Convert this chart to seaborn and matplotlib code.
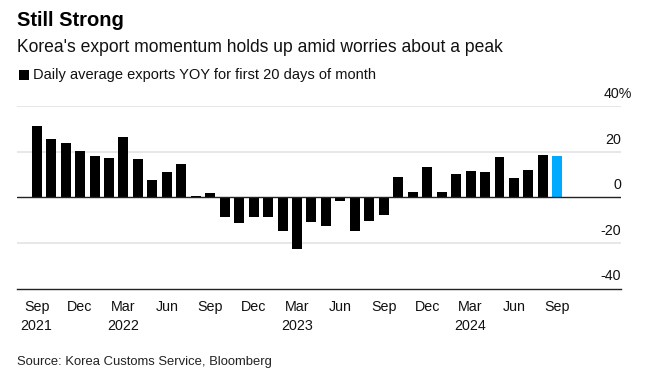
import matplotlib
matplotlib.use("Agg")
import matplotlib.pyplot as plt
from matplotlib.patches import Rectangle
import seaborn as sns
import pandas as pd
import numpy as np

months = pd.date_range("2021-09-01", "2024-09-01", freq="MS").strftime("%Y-%m").tolist()
values = [31.1, 25.7, 23.6, 20.1, 18.0, 17.2, 26.3, 16.9, 7.7, 11.1, 14.5, 0.6,
          1.9, -8.8, -11.1, -8.5, -8.5, -14.6, -22.8, -10.7, -12.8, -1.8, -15.0, -10.5,
          -7.6, 8.8, 2.3, 13.1, 2.3, 10.1, 11.5, 11.2, 17.7, 8.6, 11.8, 18.4, 18.0]
highlight = ["past"] * 36 + ["latest"]
tick_months = ["2021-09", "2021-12", "2022-03", "2022-06", "2022-09", "2022-12",
               "2023-03", "2023-06", "2023-09", "2023-12", "2024-03", "2024-06", "2024-09"]
tick_labels = ["Sep\n2021", "Dec", "Mar\n2022", "Jun", "Sep", "Dec",
               "Mar\n2023", "Jun", "Sep", "Dec", "Mar\n2024", "Jun", "Sep"]
y_ticks = [40, 20, 0, -20, -40]
y_labels = ["40%", "20", "0", "-20", "-40"]

df = pd.DataFrame({"month": months, "value": values, "kind": highlight})

sns.set_theme(style="white")
plt.rcParams["font.family"] = ["Liberation Sans", "DejaVu Sans"]

fig = plt.figure(figsize=(6.58, 3.80), dpi=100)
W, H = 658, 380
ax = fig.add_axes([17 / W, 1 - 288.5 / H, (621 - 17) / W, (288.5 - 106.1) / H])

sns.barplot(data=df, x="month", y="value", hue="kind",
            palette={"past": "#000000", "latest": "#00AAFF"},
            width=0.69, dodge=False, legend=False, ax=ax,
            edgecolor="none", linewidth=0, saturation=1)

ax.set_xlim(-1.36, 40.4)
ax.set_ylim(-40, 40)

for v in [40, 20, -20]:
    ax.axhline(v, color="#e3e3e3", lw=1.2, zorder=0)
ax.axhline(0, color="#222222", lw=1.0, zorder=3)

for s in ["top", "right", "left"]:
    ax.spines[s].set_visible(False)
ax.spines["bottom"].set_color("#222222")
ax.spines["bottom"].set_linewidth(1.0)

idx = [months.index(m) for m in tick_months]
ax.set_xticks(idx)
ax.set_xticklabels(tick_labels, fontsize=10.3, color="#111111", linespacing=1.45)
ax.tick_params(axis="x", direction="out", length=4, width=0.8, color="#555555", pad=4)
ax.set_yticks([])
ax.set_xlabel("")
ax.set_ylabel("")

for v, lab in zip(y_ticks, y_labels):
    if lab.endswith("%"):
        ax.text(39.17, v + 2.2, lab, ha="left", va="bottom", fontsize=10.3, color="#111111")
    else:
        ax.text(40.4, v + 2.2, lab, ha="right", va="bottom", fontsize=10.3, color="#111111")

fig.text(17 / W, 1 - 20 / H, "Still Strong", fontsize=14.5, fontweight="bold",
         color="#000000", va="center")
fig.text(17 / W, 1 - 48 / H, "Korea's export momentum holds up amid worries about a peak",
         fontsize=12.65, color="#111111", va="center")
fig.add_artist(Rectangle((19 / W, 1 - 80 / H), 10 / W, 10 / H, transform=fig.transFigure,
                         facecolor="#000000", edgecolor="none"))
fig.text(33 / W, 1 - 75 / H, "Daily average exports YOY for first 20 days of month",
         fontsize=10.5, color="#111111", va="center")
fig.text(17 / W, 1 - 362 / H, "Source: Korea Customs Service, Bloomberg",
         fontsize=9.4, color="#222222", va="center")

fig.savefig("out.png", dpi=100)
